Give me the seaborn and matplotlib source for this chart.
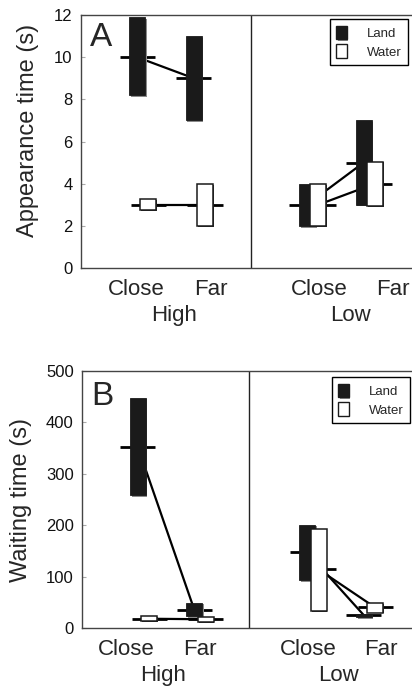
import numpy as np
import pandas as pd
import matplotlib
matplotlib.use("Agg")
import matplotlib.pyplot as plt
import matplotlib.patheffects as pe
from matplotlib.patches import Patch
from matplotlib.transforms import blended_transform_factory
import seaborn as sns

# ---------------- data ----------------
heights = ["High", "High", "Low", "Low"]
distances = ["Close", "Far", "Close", "Far"]
habitats = ["Land", "Water"]

# Panel A: appearance time (s)
A_land_lo = [8.2, 7.0, 2.0, 3.0]
A_land_med = [10.0, 9.0, 3.0, 5.0]
A_land_hi = [11.9, 11.0, 4.0, 7.0]
A_water_lo = [2.75, 2.0, 2.0, 2.95]
A_water_med = [3.0, 3.0, 3.0, 4.0]
A_water_hi = [3.25, 4.0, 4.0, 5.05]

# Panel B: waiting time (s)
B_land_lo = [258, 23, 93, 21]
B_land_med = [352, 35, 147, 25]
B_land_hi = [448, 49, 201, 28]
B_water_lo = [13, 11, 33, 30]
B_water_med = [18, 17, 114, 40]
B_water_hi = [23, 21, 192, 49]

A_yticks = [0, 2, 4, 6, 8, 10, 12]
B_yticks = [0, 100, 200, 300, 400, 500]


def make_df(land, water):
    rows = []
    for hab, (lo, med, hi) in zip(habitats, [land, water]):
        for i in range(4):
            rows.append(dict(height=heights[i], dist=distances[i], habitat=hab,
                             lo=lo[i], med=med[i], hi=hi[i]))
    return pd.DataFrame(rows)


dfA = make_df((A_land_lo, A_land_med, A_land_hi), (A_water_lo, A_water_med, A_water_hi))
dfB = make_df((B_land_lo, B_land_med, B_land_hi), (B_water_lo, B_water_med, B_water_hi))

# ---------------- style ----------------
sns.set_style("ticks")
plt.rcParams["font.family"] = ["Liberation Sans", "DejaVu Sans"]

W, H = 412, 690
fig = plt.figure(figsize=(W / 100, H / 100), dpi=100)

cat_pos = {("High", "Close"): 0, ("High", "Far"): 1, ("Low", "Close"): 3, ("Low", "Far"): 4}
dodge = {"Land": -0.1, "Water": 0.1}
bar_w = 0.28
tick_half = 0.31


def draw_panel(df, rect, ylim, yticks, ylabel, letter, divider, lab_shift, ylab_xy, letter_y,
               legend_anchor):
    ax = fig.add_axes(rect)
    df = df.copy()
    df["x"] = [cat_pos[(h, d)] + dodge[hb] for h, d, hb in zip(df.height, df.dist, df.habitat)]

    # connecting lines between medians
    sns.lineplot(data=df, x="x", y="med", hue="habitat", units="height", estimator=None,
                 palette={"Land": "black", "Water": "black"}, lw=1.6, legend=False,
                 ax=ax, zorder=1, sort=True)
    # median ticks (behind bars)
    ax.hlines(df["med"], df["x"] - tick_half, df["x"] + tick_half, colors="black",
              lw=2.0, zorder=1.5)
    # floating bars
    land = df[df.habitat == "Land"]
    water = df[df.habitat == "Water"]
    bl = ax.bar(land["x"], land["hi"] - land["lo"], bottom=land["lo"], width=bar_w,
                color="#1a1a1a", edgecolor="#1a1a1a", lw=0.6, zorder=2)
    for p in bl:
        p.set_path_effects([pe.SimplePatchShadow(offset=(1.2, -1.2), shadow_rgbFace="#8a8a8a", alpha=1),
                            pe.Normal()])
    bw = ax.bar(water["x"], water["hi"] - water["lo"], bottom=water["lo"], width=bar_w,
                color="white", edgecolor="#1a1a1a", lw=1.1, zorder=3)
    for p in bw:
        p.set_path_effects([pe.SimplePatchShadow(offset=(0.6, -0.6), shadow_rgbFace="#333333", alpha=1),
                            pe.Normal()])

    ax.axvline(divider, color="#222222", lw=1.0, zorder=0)
    ax.set_xlim(-1.09, 4.9)
    ax.set_ylim(*ylim)
    ax.set_yticks(yticks)
    ax.set_yticklabels([str(t) for t in yticks], fontsize=12)
    ax.set_xticks([])
    ax.set_xlabel("")
    ax.tick_params(axis="y", direction="in", length=3, width=0.8, pad=6,
                   color="#aaaaaa", labelcolor="#111111")
    ax.set_ylabel(ylabel, fontsize=17)
    ax.yaxis.set_label_coords(*ylab_xy)
    for s in ["top", "left", "bottom"]:
        ax.spines[s].set_color("#444444")
        ax.spines[s].set_linewidth(1.0)
    ax.spines["right"].set_visible(False)

    ax_h_px = rect[3] * H
    tr = blended_transform_factory(ax.transData, ax.transAxes)
    lab_x = {"Close_High": -0.107, "Far_High": 1.196, "Close_Low": 3.125, "Far_Low": 4.41,
             "High": 0.55, "Low": 3.66}
    for g in ["High", "Low"]:
        for d in ["Close", "Far"]:
            ax.text(lab_x[f"{d}_{g}"] + lab_shift, -21.5 / ax_h_px, d, transform=tr,
                    ha="center", va="center", fontsize=16, clip_on=False)
        ax.text(lab_x[g] + lab_shift, -47.5 / ax_h_px, g, transform=tr,
                ha="center", va="center", fontsize=16, clip_on=False)

    ax.text(0.027, letter_y, letter, transform=ax.transAxes, fontsize=24, ha="left", va="center")

    handles = [Patch(facecolor="#1a1a1a", edgecolor="#1a1a1a", label="Land"),
               Patch(facecolor="white", edgecolor="#1a1a1a", label="Water")]
    handles[0].set_path_effects([pe.SimplePatchShadow(offset=(1, -1), shadow_rgbFace="#8a8a8a", alpha=1),
                                 pe.Normal()])
    leg = ax.legend(handles=handles, loc="upper right", bbox_to_anchor=legend_anchor,
                    bbox_transform=fig.transFigure,
                    prop={"family": ["Liberation Sans Narrow", "Liberation Sans"], "size": 9.5},
                    frameon=True, fancybox=False,
                    framealpha=1, edgecolor="black", handlelength=0.8, handleheight=1.2,
                    handletextpad=1.5, borderpad=0.5, labelspacing=0.35, borderaxespad=0)
    leg.get_frame().set_linewidth(1.0)
    return ax


draw_panel(dfA, [81 / W, 1 - 268 / H, (W - 81) / W + 0.02, (268 - 15) / H],
           (0, 12), A_yticks, "Appearance time (s)", "A", 1.91, 0.0, (-0.125, 0.545), 0.913,
           (408 / W, 1 - 19 / H))
draw_panel(dfB, [82 / W, 1 - 628 / H, (W - 82) / W + 0.02, (628 - 371) / H],
           (0, 500), B_yticks, "Waiting time (s)", "B", 1.86, -0.2, (-0.148, 0.5), 0.90,
           (410 / W, 1 - 377 / H))

fig.savefig("out.png", dpi=100, facecolor="white")
